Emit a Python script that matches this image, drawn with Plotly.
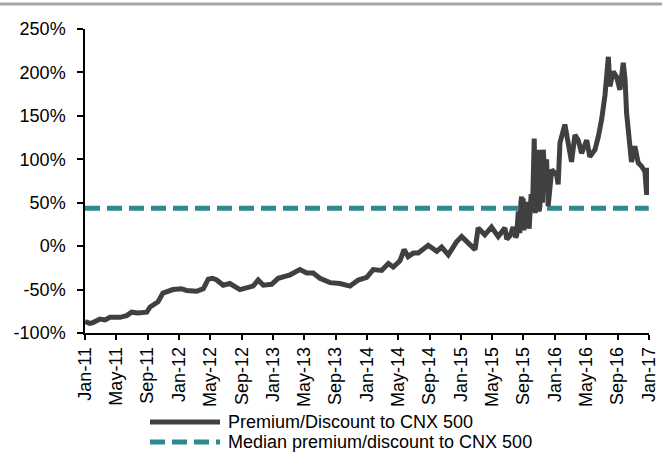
import plotly.graph_objects as go

# Premium/Discount to CNX 500 (values in %)
dates = [
    "2011-01-01", "2011-01-20", "2011-02-01", "2011-02-28", "2011-03-20", "2011-04-08",
    "2011-05-17", "2011-06-12", "2011-07-01", "2011-07-25", "2011-08-29", "2011-09-11",
    "2011-10-12", "2011-10-31", "2011-12-09", "2012-01-10", "2012-01-31", "2012-03-10",
    "2012-04-05", "2012-04-24", "2012-05-10", "2012-05-27", "2012-06-21", "2012-07-17",
    "2012-08-25", "2012-09-20", "2012-10-15", "2012-11-04", "2012-11-24", "2012-12-26",
    "2013-01-21", "2013-03-08", "2013-04-15", "2013-05-12", "2013-06-06", "2013-07-02",
    "2013-08-10", "2013-09-18", "2013-10-27", "2013-11-28", "2013-12-31", "2014-01-25",
    "2014-02-27", "2014-03-25", "2014-04-13", "2014-05-09", "2014-05-25", "2014-06-10",
    "2014-06-30", "2014-07-19", "2014-08-27", "2014-09-29", "2014-10-18", "2014-11-13",
    "2014-12-15", "2015-01-04", "2015-01-23", "2015-02-25", "2015-03-09", "2015-04-04",
    "2015-04-30", "2015-05-26", "2015-06-21", "2015-06-28", "2015-07-11", "2015-07-23",
    "2015-08-02", "2015-08-06", "2015-08-12", "2015-08-18", "2015-08-22", "2015-08-25",
    "2015-08-28", "2015-08-31", "2015-09-03", "2015-09-06", "2015-09-10", "2015-09-13",
    "2015-09-17", "2015-09-20", "2015-09-23", "2015-09-26", "2015-10-01", "2015-10-06",
    "2015-10-10", "2015-10-13", "2015-10-17", "2015-10-22", "2015-10-29", "2015-11-01",
    "2015-11-04", "2015-11-10", "2015-11-14", "2015-11-17", "2015-11-23", "2015-11-30",
    "2015-12-06", "2015-12-20", "2016-01-08", "2016-01-14", "2016-01-21", "2016-02-09",
    "2016-02-18", "2016-03-06", "2016-03-19", "2016-04-01", "2016-04-14", "2016-05-04",
    "2016-05-16", "2016-06-05", "2016-06-18", "2016-07-01", "2016-07-14", "2016-07-27",
    "2016-08-02", "2016-08-15", "2016-08-28", "2016-09-10", "2016-09-23", "2016-09-30",
    "2016-10-06", "2016-10-19", "2016-10-25", "2016-11-07", "2016-11-20", "2016-12-03",
    "2016-12-16", "2016-12-23", "2016-12-29", "2016-12-31",
]
premium = [
    -87, -89, -88, -84, -85, -82,
    -82, -80, -76, -77, -76, -70,
    -64, -54, -50, -49, -51, -52,
    -49, -38, -37, -39, -45, -43,
    -50, -48, -46, -39, -45, -44,
    -37, -33, -27, -31, -31, -37,
    -42, -43, -46, -39, -36, -27,
    -28, -20, -24, -17, -4, -12,
    -8, -8, 1, -6, -1, -10,
    5, 11, 5, -4, 21, 13,
    22, 11, 21, 8, 12, 22,
    10, 13, 40, 15, 50, 57,
    20, 55, 18, 50, 25, 51,
    22, 45, 20, 33, 60, 40,
    90, 124, 38, 60, 111, 40,
    46, 100, 50, 111, 84, 100,
    46, 88, 82, 71, 119, 140,
    122, 97, 128, 122, 107, 122,
    103, 111, 126, 146, 174, 218,
    184, 201, 195, 180, 211, 192,
    153, 107, 97, 115, 96, 92,
    86, 59, 90, 78,
]

median_dates = ["2011-01-01", "2016-12-31"]
median_value = [43.5, 43.5]

tick_dates = [
    "2011-01-01", "2011-05-01", "2011-09-01", "2012-01-01", "2012-05-01", "2012-09-01",
    "2013-01-01", "2013-05-01", "2013-09-01", "2014-01-01", "2014-05-01", "2014-09-01",
    "2015-01-01", "2015-05-01", "2015-09-01", "2016-01-01", "2016-05-01", "2016-09-01",
    "2017-01-01",
]
tick_labels = [
    "Jan-11", "May-11", "Sep-11", "Jan-12", "May-12", "Sep-12",
    "Jan-13", "May-13", "Sep-13", "Jan-14", "May-14", "Sep-14",
    "Jan-15", "May-15", "Sep-15", "Jan-16", "May-16", "Sep-16",
    "Jan-17",
]
y_ticks = [-100, -50, 0, 50, 100, 150, 200, 250]
y_labels = ["-100%", "-50%", "0%", "50%", "100%", "150%", "200%", "250%"]

series_names = ["Premium/Discount to CNX 500", "Median premium/discount to CNX 500"]

LINE_COLOR = "#404040"
MEDIAN_COLOR = "#2E8A8E"
FONT = "Liberation Sans, Arial, sans-serif"

fig = go.Figure()
fig.add_trace(go.Scatter(
    x=median_dates, y=median_value, mode="lines", name=series_names[1],
    line=dict(color=MEDIAN_COLOR, width=5, dash="15px,7px"), showlegend=False,
))
fig.add_trace(go.Scatter(
    x=dates, y=premium, mode="lines", name=series_names[0],
    line=dict(color=LINE_COLOR, width=5), showlegend=False,
))

W, H = 662, 452
L, R, T, B = 85, 13, 29, 119
pw, ph = W - L - R, H - T - B

def px_x(px):
    return (px - L) / pw

def px_y(py):
    return (H - B - py) / ph

shapes = [
    # grey rule at top
    dict(type="line", xref="paper", yref="paper", x0=px_x(0), x1=px_x(W),
         y0=px_y(4), y1=px_y(4), line=dict(color="#A6A6A6", width=3)),
    # legend samples
    dict(type="line", xref="paper", yref="paper", x0=px_x(150), x1=px_x(220),
         y0=px_y(422), y1=px_y(422), line=dict(color=LINE_COLOR, width=5)),
    dict(type="line", xref="paper", yref="paper", x0=px_x(150), x1=px_x(220),
         y0=px_y(442), y1=px_y(442), line=dict(color=MEDIAN_COLOR, width=5, dash="15px,7px")),
]
annotations = [
    dict(xref="paper", yref="paper", x=px_x(226), y=px_y(422), text=series_names[0],
         showarrow=False, xanchor="left", yanchor="middle",
         font=dict(family=FONT, size=18, color="#000000")),
    dict(xref="paper", yref="paper", x=px_x(226), y=px_y(442), text=series_names[1],
         showarrow=False, xanchor="left", yanchor="middle",
         font=dict(family=FONT, size=18, color="#000000")),
]

fig.update_layout(
    width=W, height=H, autosize=False,
    margin=dict(l=L, r=R, t=T, b=B, pad=0, autoexpand=False),
    paper_bgcolor="white", plot_bgcolor="white",
    font=dict(family=FONT, size=18, color="#000000"),
    shapes=shapes, annotations=annotations,
    showlegend=False,
)
fig.update_xaxes(
    type="date", range=["2011-01-01", "2017-01-01"],
    tickvals=tick_dates, ticktext=tick_labels, tickangle=-90,
    showgrid=False, zeroline=False, automargin=False,
    showline=True, linecolor="#000000", linewidth=1.5,
    ticks="outside", ticklen=5, tickwidth=1.5, tickcolor="#000000",
)
fig.update_yaxes(
    range=[-100, 250], tickvals=y_ticks, ticktext=y_labels,
    showgrid=False, zeroline=False, automargin=False,
    showline=True, linecolor="#000000", linewidth=1.5,
    ticks="outside", ticklen=6, tickwidth=1.5, tickcolor="#000000",
    ticklabelstandoff=8,
)

fig.write_html(
    "out.html",
    config={"displayModeBar": False, "responsive": False},
    post_script="document.body.style.margin='0px';document.body.style.overflow='hidden';",
)
